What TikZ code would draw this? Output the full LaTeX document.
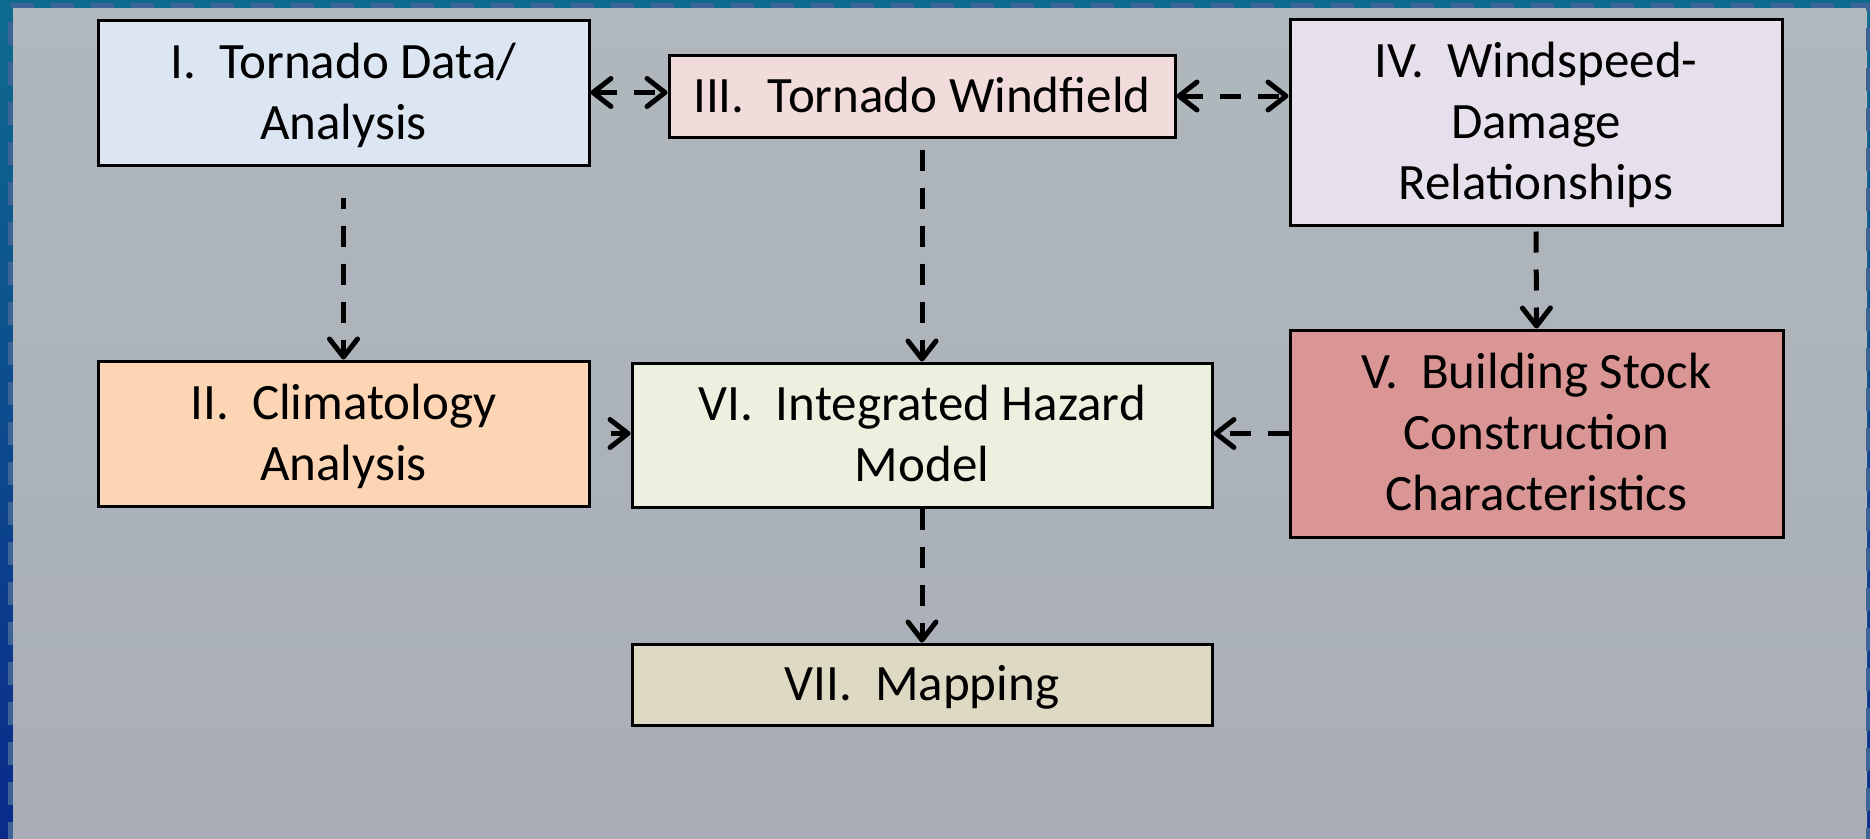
\documentclass[tikz,border=0pt]{standalone}
\usepackage{fontspec}
\setmainfont{Carlito}
\usetikzlibrary{arrows.meta}
\definecolor{outerTop}{HTML}{0E6B8F}
\definecolor{outerBot}{HTML}{0A2A8A}
\definecolor{bgTop}{HTML}{AFB8BC}
\definecolor{bgBot}{HTML}{A9ADB8}
\definecolor{frameDash}{HTML}{3C6496}
\definecolor{cI}{HTML}{DCE6F2}
\definecolor{cII}{HTML}{FCD5B5}
\definecolor{cIII}{HTML}{F2DCDB}
\definecolor{cIV}{HTML}{E6E0EC}
\definecolor{cV}{HTML}{D99694}
\definecolor{cVI}{HTML}{EBF1DE}
\definecolor{cVII}{HTML}{DDD9C3}
\begin{document}
\begin{tikzpicture}[x=1pt,y=-1pt,
  box/.style={draw=black, line width=3pt, inner sep=0pt, align=center,
    font=\fontsize{51}{61}\selectfont, text depth=0pt},
  oneline/.style={text height=32pt},
  twoline/.style={text height=93pt},
  threeline/.style={text height=154pt},
  tipc/.tip={Straight Barb[length=18pt,width=28pt,round]},
  flow/.style={line width=5pt, dash pattern=on 21pt off 17pt, -tipc},
  bothflow/.style={line width=5pt, dash pattern=on 21pt off 17pt, tipc-tipc}]
\useasboundingbox (0,0) rectangle (1870,838);
% background
\shade[top color=outerTop, bottom color=outerBot] (0,0) rectangle (1870,838);
\shade[top color=bgTop, bottom color=bgBot] (13,8) rectangle (1867,838);
\draw[frameDash, line width=5pt, dash pattern=on 23pt off 17pt]
  (10.5,845) -- (10.5,5.5) -- (1868.5,5.5) -- (1868.5,845);
% boxes
\node[box, oneline, fill=cIII, minimum width=506pt, minimum height=82pt] (III) at (922,96) {III.\ \ Tornado Windfield};
\node[box, twoline, fill=cI, minimum width=491pt, minimum height=145pt] (I) at (343.5,92.5) {I.\ \ Tornado Data/\\Analysis};
\node[box, threeline, fill=cIV, minimum width=492pt, minimum height=206pt] (IV) at (1536,122) {IV.\ \ Windspeed-\\Damage\\Relationships};
\node[box, twoline, fill=cII, minimum width=491pt, minimum height=145pt] (II) at (343.5,433.5) {II.\ \ Climatology\\Analysis};
\node[box, twoline, fill=cVI, minimum width=580pt, minimum height=144pt] (VI) at (922,435) {VI.\ \ Integrated Hazard\\Model};
\node[box, threeline, fill=cV, minimum width=493pt, minimum height=207pt] (V) at (1536.5,433.5) {V.\ \ Building Stock\\Construction\\Characteristics};
\node[box, oneline, fill=cVII, minimum width=580pt, minimum height=81pt] (VII) at (922,684.5) {VII.\ \ Mapping};
% connectors
\draw[bothflow] (I.east) -- (I.east -| III.west);
\draw[bothflow] (III.east) -- (III.east -| IV.west);
\draw[flow, shorten <=31pt, dash phase=10pt] (I.south) -- (II.north);
\draw[flow, shorten <=11pt] (III.south) -- (VI.north);
\draw[flow, shorten <=5pt] (IV.south) -- (V.north);
\draw[flow, shorten <=20pt] (II.east) -- (II.east -| VI.west);
\draw[flow] (V.west) -- (V.west -| VI.east);
\draw[flow] (VI.south) -- (VII.north);
\end{tikzpicture}
\end{document}
